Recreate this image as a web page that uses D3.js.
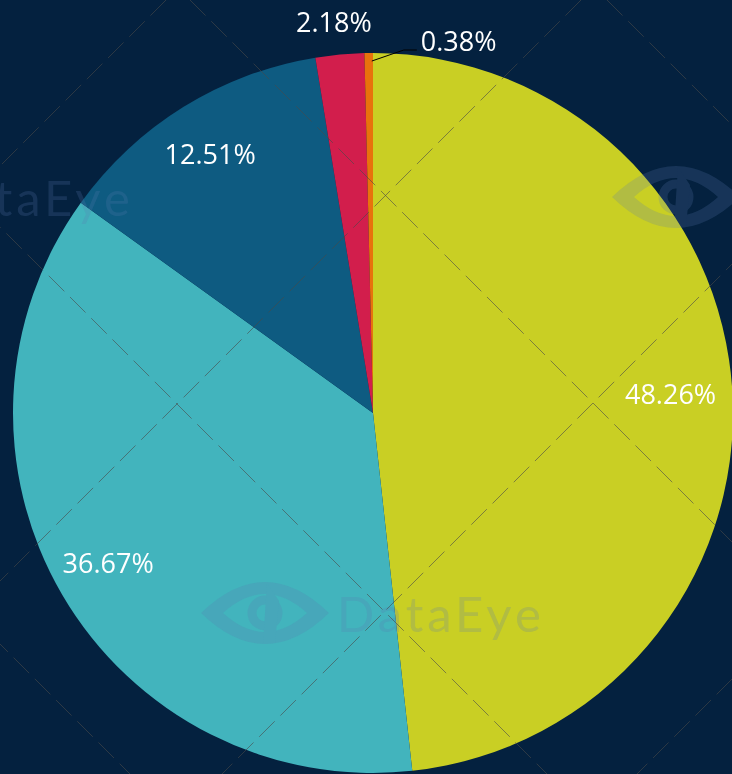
<!DOCTYPE html>
<html>
<head>
<meta charset="utf-8">
<script src="https://cdn.jsdelivr.net/npm/d3@7"></script>
<style>
  html, body { margin: 0; padding: 0; background: #04213f; }
  svg { display: block; }
</style>
</head>
<body>
<div id="chart"></div>
<script>
// slice data, clockwise from 12 o'clock
var labels = ["48.26%", "36.67%", "12.51%", "2.18%", "0.38%"];
var values = [48.26, 36.67, 12.51, 2.18, 0.38];
var colors = ["#c9cf24", "#42b4bd", "#0e5b81", "#d21e4c", "#e8720c"];

function init(){
    var w = 732;
    var h = 774;
    var cx = 373, cy = 413, R = 360;

    var svg = d3.select("#chart")
                .append("svg")
                .attr("width", w)
                .attr("height", h);

    svg.append("rect")
        .attr("width", w)
        .attr("height", h)
        .attr("fill", "#04213f");

    var pie = d3.pie()
                .sort(null)
                .value(function(d){ return d; });
    var arcs = pie(values);

    var arc = d3.arc().innerRadius(0).outerRadius(R);
    var labelArc = d3.arc().innerRadius(302).outerRadius(302);
    var outerArc = d3.arc().innerRadius(392).outerRadius(392);

    var g = svg.append("g")
                .attr("transform", "translate(" + cx + "," + cy + ")");

    g.selectAll("path")
        .data(arcs)
        .enter()
        .append("path")
        .attr("d", arc)
        .attr("fill", function(d, i){ return colors[i]; });

    // watermark, repeated on a diamond lattice
    var wm = svg.append("g").attr("opacity", 0.22);
    var marks = [];
    for (var a = -2; a <= 2; a++){
        for (var b = -2; b <= 2; b++){
            marks.push([265 + (a - b) * 411, 613 - (a + b) * 416]);
        }
    }
    marks = marks.filter(function(p){ return p[0] > -500 && p[0] < 900 && p[1] > -100 && p[1] < 900; });
    var wmg = wm.selectAll("g.wm")
        .data(marks)
        .enter()
        .append("g")
        .attr("class", "wm")
        .attr("transform", function(p){ return "translate(" + p[0] + "," + p[1] + ")"; });
    // eye outline
    wmg.append("path")
        .attr("d", "M-64,0 Q0,-62 64,0 Q0,62 -64,0 Z M-42,0 Q0,38 42,0 Q0,-38 -42,0 Z")
        .attr("fill-rule", "evenodd")
        .attr("fill", "#5a7ab0");
    wmg.append("circle")
        .attr("r", 13)
        .attr("fill", "none")
        .attr("stroke", "#5a7ab0")
        .attr("stroke-width", 9);
    wmg.append("path")
        .attr("d", "M2,-30 L14,-12 L10,30 L-2,30 Z")
        .attr("fill", "#5a7ab0");
    wmg.append("text")
        .attr("x", 72)
        .attr("y", 19)
        .attr("font-family", "Lato, 'Open Sans', sans-serif")
        .attr("font-size", 49)
        .attr("letter-spacing", 4)
        .attr("fill", "#5a7ab0")
        .text("DataEye");

    // dashed diagonal grid on top
    var grid = svg.append("g")
                .attr("stroke", "#4a4a4a")
                .attr("stroke-opacity", 0.6)
                .attr("stroke-width", 1)
                .attr("stroke-dasharray", "22,8")
                .attr("fill", "none");
    var down = [190 - 417 * 2, 190 - 417, 190, 190 + 417];   // x - y = c
    var up = [166, 166 + 415, 166 + 415 * 2, 166 + 415 * 3]; // x + y = c
    grid.selectAll("line.down")
        .data(down)
        .enter()
        .append("line")
        .attr("x1", function(c){ return c; })
        .attr("y1", 0)
        .attr("x2", function(c){ return c + h; })
        .attr("y2", h);
    grid.selectAll("line.up")
        .data(up)
        .enter()
        .append("line")
        .attr("x1", function(c){ return c; })
        .attr("y1", 0)
        .attr("x2", function(c){ return c - h; })
        .attr("y2", h);

    // labels
    var lg = svg.append("g")
                .attr("transform", "translate(" + (cx - 4) + "," + (cy - 2) + ")");
    lg.selectAll("text.inner")
        .data(arcs.slice(0, 3))
        .enter()
        .append("text")
        .attr("class", "inner")
        .attr("transform", function(d){ return "translate(" + labelArc.centroid(d) + ")"; })
        .attr("text-anchor", "middle")
        .attr("dy", "0.35em")
        .attr("font-family", "'Open Sans', 'Noto Sans', sans-serif")
        .attr("font-size", 27)
        .attr("fill", "#ffffff")
        .text(function(d, i){ return labels[i]; });

    var og = svg.append("g")
                .attr("transform", "translate(" + cx + "," + cy + ")");
    var small = arcs[3];
    var p3 = outerArc.centroid(small);
    og.append("text")
        .attr("x", p3[0] - 3)
        .attr("y", p3[1])
        .attr("dy", "0.35em")
        .attr("text-anchor", "middle")
        .attr("font-family", "'Open Sans', 'Noto Sans', sans-serif")
        .attr("font-size", 27)
        .attr("fill", "#ffffff")
        .text(labels[3]);

    var tiny = arcs[4];
    var startArc = d3.arc().innerRadius(R - 8).outerRadius(R - 8);
    var s = startArc.centroid(tiny);
    s[0] += 3;
    var elbow = [s[0] + 32, -R - 3];
    var end = [elbow[0] + 13, elbow[1]];
    og.append("polyline")
        .attr("points", [s, elbow, end].map(function(p){ return p.join(","); }).join(" "))
        .attr("fill", "none")
        .attr("stroke", "#000000")
        .attr("stroke-width", 1);
    og.append("text")
        .attr("x", end[0] + 4)
        .attr("y", end[1] - 8)
        .attr("dy", "0.35em")
        .attr("text-anchor", "start")
        .attr("font-family", "'Open Sans', 'Noto Sans', sans-serif")
        .attr("font-size", 27)
        .attr("fill", "#ffffff")
        .text(labels[4]);
}
window.onload = init;
</script>
</body>
</html>
